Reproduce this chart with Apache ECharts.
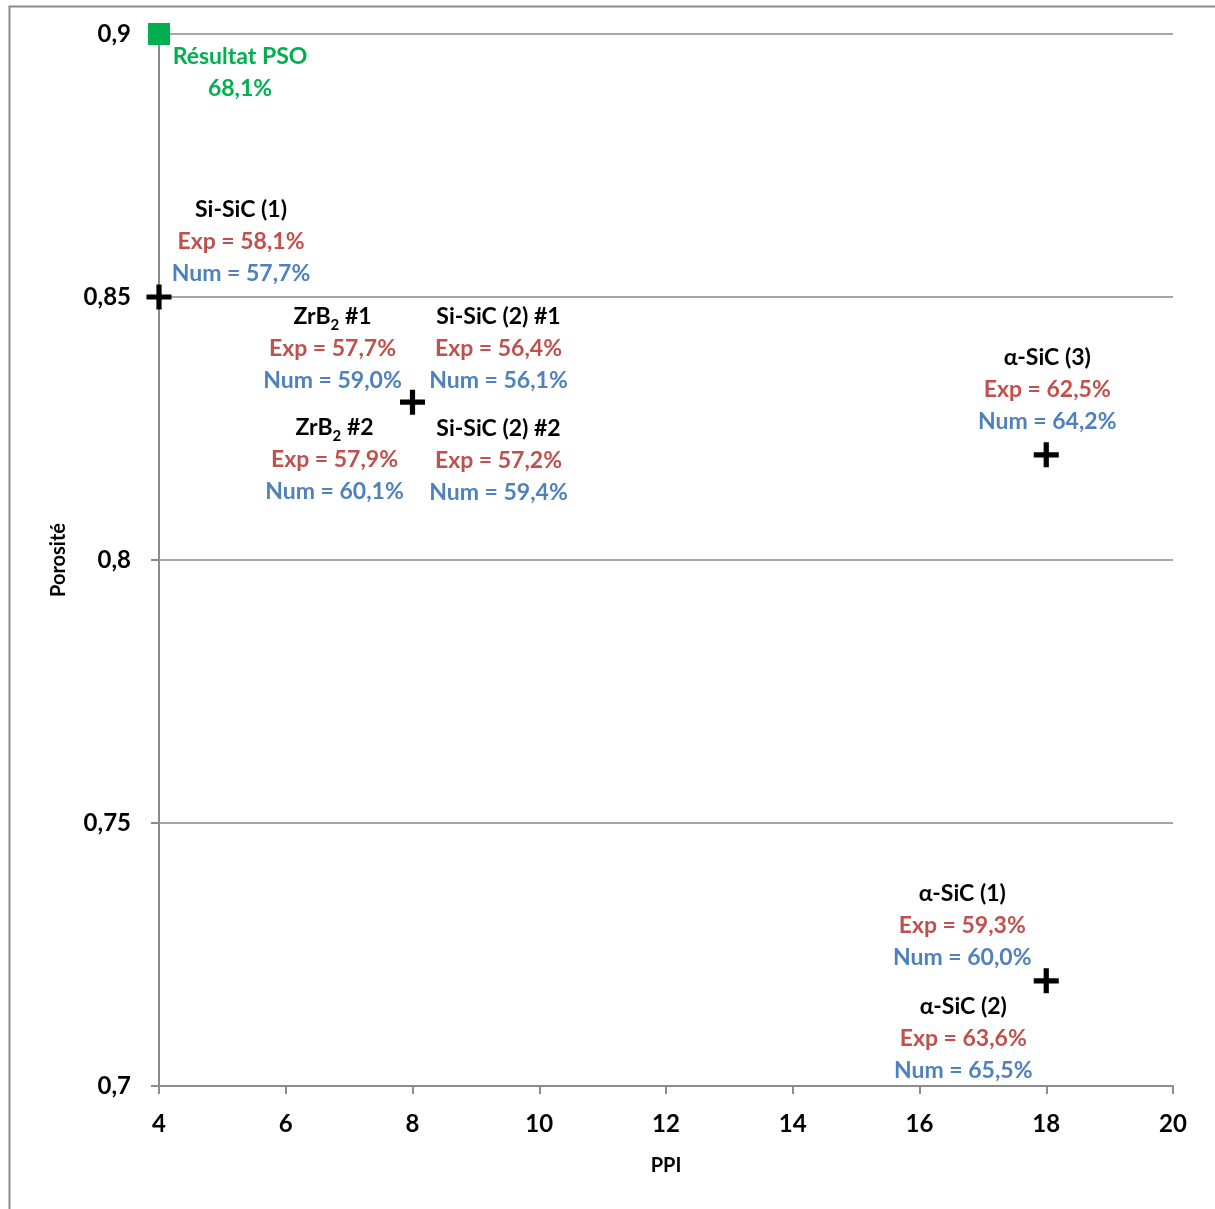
<!DOCTYPE html>
<html>
<head>
<meta charset="utf-8">
<script src="https://cdn.jsdelivr.net/npm/echarts@6/dist/echarts.min.js"></script>
<style>
html,body{margin:0;padding:0;background:#fff;}
#chart{width:1215px;height:1209px;}
</style>
</head>
<body>
<div id="chart"></div>
<script>
// ---- data ----
const xTicks = [4, 6, 8, 10, 12, 14, 16, 18, 20];
const yTicks = [0.7, 0.75, 0.8, 0.85, 0.9];
const pointPPI = [4, 8, 18, 18];
const pointPorosite = [0.85, 0.83, 0.82, 0.72];
const psoPoint = [4, 0.9];
const psoTitle = 'Résultat PSO';
const psoValue = 68.1;
const sampleNames = ['Si-SiC (1)', 'ZrB₂ #1', 'Si-SiC (2) #1', 'ZrB₂ #2', 'Si-SiC (2) #2', 'α-SiC (3)', 'α-SiC (1)', 'α-SiC (2)'];
const samplePointIndex = [0, 1, 1, 1, 1, 2, 3, 3];
const expValues = [58.1, 57.7, 56.4, 57.9, 57.2, 62.5, 59.3, 63.6];
const numValues = [57.7, 59.0, 56.1, 60.1, 59.4, 64.2, 60.0, 65.5];

// ---- presentation ----
const labelOffsets = [[82, -55], [-80, -54], [86, -54], [-78, 57], [86, 58], [1, -65], [-84, -55], [-83, 58]];
const FONT = 'Lato';
const FS = 23;
const fmtPct = v => v.toFixed(1).replace('.', ',') + '%';
const fmtName = n => n.split('₂').map(s => '{n|' + s + '}').join('{sub|2}');

const richStyles = {
  n: {fontFamily: FONT, fontWeight: 'bold', fontSize: FS, lineHeight: 32, color: '#000'},
  sub: {fontFamily: FONT, fontWeight: 'bold', fontSize: 15, lineHeight: 20, verticalAlign: 'bottom', color: '#000'},
  e: {fontFamily: FONT, fontWeight: 'bold', fontSize: FS, lineHeight: 32, color: '#c0504d'},
  m: {fontFamily: FONT, fontWeight: 'bold', fontSize: FS, lineHeight: 32, color: '#4f81bd'},
  g: {fontFamily: FONT, fontWeight: 'bold', fontSize: FS, lineHeight: 32, color: '#00b050'}
};

const labelData = sampleNames.map((name, i) => {
  const p = samplePointIndex[i];
  return {
    value: [pointPPI[p], pointPorosite[p]],
    label: {
      show: true,
      position: 'inside',
      align: 'center',
      verticalAlign: 'middle',
      offset: labelOffsets[i],
      formatter: fmtName(name) + '\n{e|Exp = ' + fmtPct(expValues[i]) + '}\n{m|Num = ' + fmtPct(numValues[i]) + '}',
      rich: richStyles
    }
  };
});

const plusPath = 'path://M9.5,0 L14.5,0 L14.5,9.5 L24,9.5 L24,14.5 L14.5,14.5 L14.5,24 L9.5,24 L9.5,14.5 L0,14.5 L0,9.5 L9.5,9.5 Z';

const chart = echarts.init(document.getElementById('chart'), null, {renderer: 'canvas'});
chart.setOption({
  animation: false,
  backgroundColor: '#fff',
  graphic: [{
    type: 'rect', left: 7, top: 4, z: -10,
    shape: {x: 0, y: 0, width: 1400, height: 1400},
    style: {fill: 'none', stroke: '#8a8a8a', lineWidth: 2}
  }],
  grid: {left: 159, right: 42, top: 34, bottom: 123, containLabel: false},
  xAxis: {
    type: 'value', min: xTicks[0], max: xTicks[xTicks.length - 1], interval: 2,
    name: 'PPI', nameLocation: 'middle', nameGap: 70,
    nameTextStyle: {fontFamily: FONT, fontWeight: 'bold', fontSize: 20, color: '#000'},
    axisLine: {show: true, lineStyle: {color: '#8c8c8c', width: 2}},
    axisTick: {show: true, inside: false, length: 8, lineStyle: {color: '#8c8c8c', width: 2}},
    axisLabel: {margin: 26, fontFamily: FONT, fontWeight: 'bold', fontSize: 24, color: '#000'},
    splitLine: {show: false}
  },
  yAxis: {
    type: 'value', min: yTicks[0], max: yTicks[yTicks.length - 1], interval: 0.05,
    name: 'Porosité', nameLocation: 'middle', nameGap: 90,
    nameTextStyle: {fontFamily: FONT, fontWeight: 'bold', fontSize: 20, color: '#000'},
    axisLine: {show: true, lineStyle: {color: '#8c8c8c', width: 2}},
    axisTick: {show: true, inside: false, length: 8, lineStyle: {color: '#8c8c8c', width: 2}},
    axisLabel: {margin: 28, fontFamily: FONT, fontWeight: 'bold', fontSize: 24, color: '#000',
      formatter: v => String(+v.toFixed(2)).replace('.', ',')},
    splitLine: {show: true, lineStyle: {color: '#a6a6a6', width: 2}}
  },
  series: [
    {
      type: 'scatter', name: 'points',
      symbol: plusPath, symbolSize: 25,
      itemStyle: {color: '#000', opacity: 1},
      data: pointPPI.map((x, i) => [x, pointPorosite[i]]),
      z: 5
    },
    {
      type: 'scatter', name: 'PSO',
      symbol: 'rect', symbolSize: 22,
      itemStyle: {color: '#00b050', opacity: 1},
      data: [psoPoint],
      label: {
        show: true, position: 'inside', align: 'center', verticalAlign: 'middle',
        offset: [81, 39],
        formatter: '{g|' + psoTitle + '}\n{g|' + fmtPct(psoValue) + '}',
        rich: richStyles
      },
      z: 6
    },
    {
      type: 'scatter', name: 'labels',
      symbolSize: 0, silent: true,
      itemStyle: {opacity: 1, color: '#000'},
      data: labelData,
      z: 7
    }
  ]
});
</script>
</body>
</html>
